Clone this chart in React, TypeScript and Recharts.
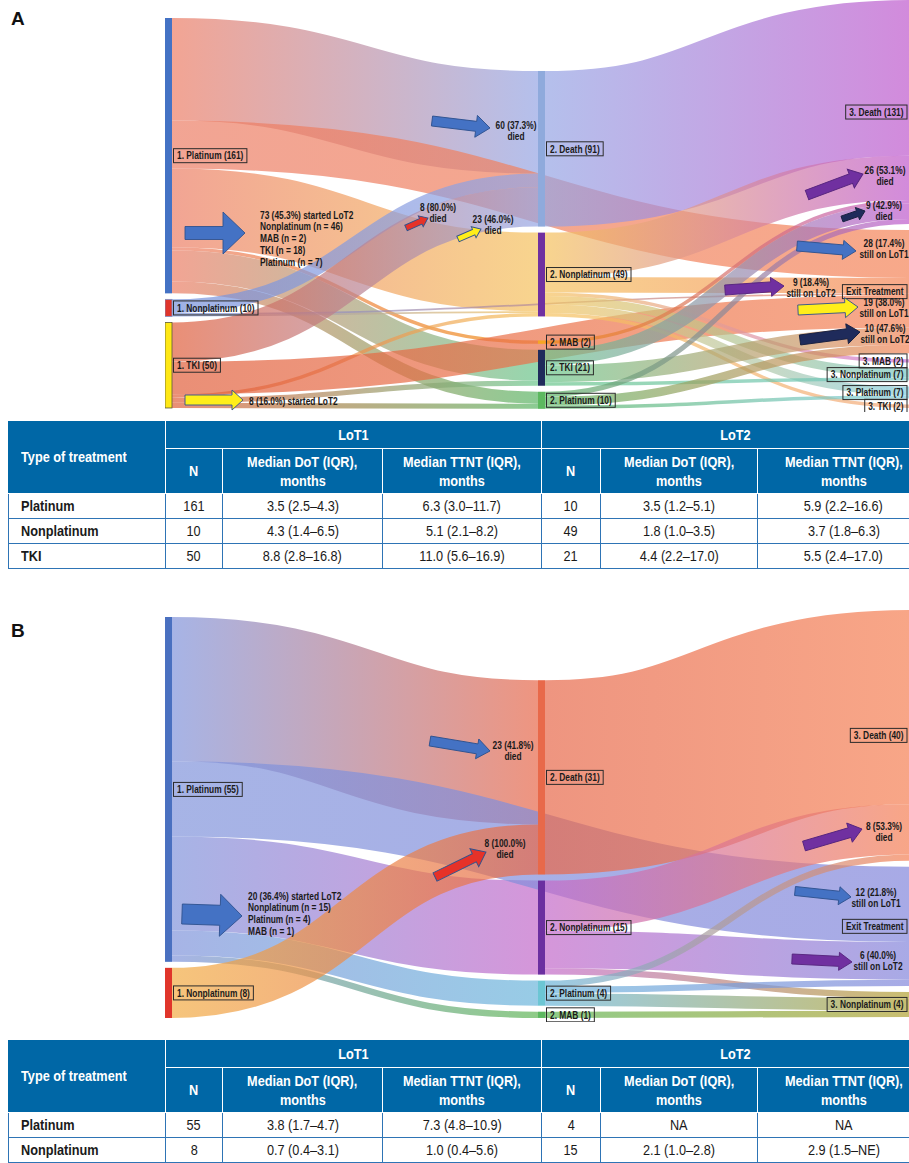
import React from 'react';
import { Sankey } from 'recharts';

// Arial-metric font squeezed horizontally to get a narrow face
const FONT = '"Liberation Sans", Arial, sans-serif';
const NARROW = 0.82;

// ---------- Panel A: LoT1 -> LoT2 -> LoT3 ----------
const nodesA = [
  'spacer-top', '1. Platinum (161)', '1. Nonplatinum (10)', '1. TKI (50)', 'spacer-bottom',
  'spacer-mid', '2. Death (91)', '2. Nonplatinum (49)', '2. MAB (2)', '2. TKI (21)', '2. Platinum (10)', 'spacer-mid2',
  '3. Death (131)', 'Exit Treatment', '3. MAB (2)', '3. Nonplatinum (7)', '3. Platinum (7)', '3. TKI (2)', 'spacer-end',
];

const flowsA: [string, string, number][] = [
  ['1. Platinum (161)', '2. Death (91)', 60],
  ['1. Platinum (161)', '2. Nonplatinum (49)', 46],
  ['1. Platinum (161)', '2. MAB (2)', 2],
  ['1. Platinum (161)', '2. TKI (21)', 18],
  ['1. Platinum (161)', '2. Platinum (10)', 7],
  ['1. Platinum (161)', 'Exit Treatment', 28],
  ['1. Nonplatinum (10)', '2. Death (91)', 8],
  ['1. Nonplatinum (10)', '2. Nonplatinum (49)', 1],
  ['1. Nonplatinum (10)', 'Exit Treatment', 1],
  ['1. TKI (50)', '2. Death (91)', 23],
  ['1. TKI (50)', '2. Nonplatinum (49)', 2],
  ['1. TKI (50)', '2. TKI (21)', 3],
  ['1. TKI (50)', '2. Platinum (10)', 3],
  ['1. TKI (50)', 'Exit Treatment', 19],
  ['2. Death (91)', '3. Death (131)', 91],
  ['2. Nonplatinum (49)', '3. Death (131)', 26],
  ['2. Nonplatinum (49)', 'Exit Treatment', 9],
  ['2. Nonplatinum (49)', '3. MAB (2)', 2],
  ['2. Nonplatinum (49)', '3. Nonplatinum (7)', 5],
  ['2. Nonplatinum (49)', '3. Platinum (7)', 5],
  ['2. Nonplatinum (49)', '3. TKI (2)', 2],
  ['2. MAB (2)', '3. Death (131)', 2],
  ['2. TKI (21)', '3. Death (131)', 9],
  ['2. TKI (21)', 'Exit Treatment', 10],
  ['2. TKI (21)', '3. Nonplatinum (7)', 2],
  ['2. Platinum (10)', '3. Death (131)', 3],
  ['2. Platinum (10)', 'Exit Treatment', 5],
  ['2. Platinum (10)', '3. Platinum (7)', 2],
];

// hidden flows: every column is filled to the full height so the stacking
// order stays fixed and the LoT2 column sits on the bottom line
const spacersA: [string, string, number][] = [
  ['spacer-top', 'spacer-mid', 7.02],
  ['spacer-bottom', 'spacer-mid', 41.48],
  ['spacer-bottom', 'spacer-mid2', 8.52],
  ['spacer-mid', 'spacer-end', 0.5],
  ['spacer-mid2', 'spacer-end', 49.5],
];

// ---------- Panel B ----------
const nodesB = [
  'spacer-top', '1. Platinum (55)', '1. Nonplatinum (8)', 'spacer-bottom',
  'spacer-mid', '2. Death (31)', '2. Nonplatinum (15)', '2. Platinum (4)', '2. MAB (1)',
  '3. Death (40)', 'Exit Treatment', '3. Nonplatinum (4)', 'spacer-end',
];

const flowsB: [string, string, number][] = [
  ['1. Platinum (55)', '2. Death (31)', 23],
  ['1. Platinum (55)', '2. Nonplatinum (15)', 15],
  ['1. Platinum (55)', '2. Platinum (4)', 4],
  ['1. Platinum (55)', '2. MAB (1)', 1],
  ['1. Platinum (55)', 'Exit Treatment', 12],
  ['1. Nonplatinum (8)', '2. Death (31)', 8],
  ['2. Death (31)', '3. Death (40)', 31],
  ['2. Nonplatinum (15)', '3. Death (40)', 8],
  ['2. Nonplatinum (15)', 'Exit Treatment', 6],
  ['2. Nonplatinum (15)', '3. Nonplatinum (4)', 1],
  ['2. Platinum (4)', '3. Death (40)', 1],
  ['2. Platinum (4)', 'Exit Treatment', 1],
  ['2. Platinum (4)', '3. Nonplatinum (4)', 2],
  ['2. MAB (1)', '3. Nonplatinum (4)', 1],
];

const spacersB: [string, string, number][] = [
  ['spacer-top', 'spacer-mid', 0.16],
  ['spacer-bottom', 'spacer-mid', 10.08],
  ['spacer-mid', 'spacer-end', 10.24],
];

// ---------- tables ----------
const lotHeaders = ['LoT1', 'LoT2'];
const lotColumns = [['N'], ['Median DoT (IQR),', 'months'], ['Median TTNT (IQR),', 'months']];

const tableRowsA = [
  ['Platinum', '161', '3.5 (2.5–4.3)', '6.3 (3.0–11.7)', '10', '3.5 (1.2–5.1)', '5.9 (2.2–16.6)'],
  ['Nonplatinum', '10', '4.3 (1.4–6.5)', '5.1 (2.1–8.2)', '49', '1.8 (1.0–3.5)', '3.7 (1.8–6.3)'],
  ['TKI', '50', '8.8 (2.8–16.8)', '11.0 (5.6–16.9)', '21', '4.4 (2.2–17.0)', '5.5 (2.4–17.0)'],
];

const tableRowsB = [
  ['Platinum', '55', '3.8 (1.7–4.7)', '7.3 (4.8–10.9)', '4', 'NA', 'NA'],
  ['Nonplatinum', '8', '0.7 (0.4–3.1)', '1.0 (0.4–5.6)', '15', '2.1 (1.0–2.8)', '2.9 (1.5–NE)'],
];

// ---------- colours ----------
const barColorsA: Record<string, string> = {
  '1. Platinum (161)': '#4472C4',
  '1. Nonplatinum (10)': '#E0352B',
  '1. TKI (50)': '#FFE815',
  '2. Death (91)': '#8FAADC',
  '2. Nonplatinum (49)': '#7030A0',
  '2. MAB (2)': '#F5A623',
  '2. TKI (21)': '#1F2B5B',
  '2. Platinum (10)': '#5CB85F',
};

const flowColorsA: Record<string, string> = {
  '1. Platinum (161)': '#EC7E66',
  '1. Nonplatinum (10)': '#7691DB',
  '1. TKI (50)': '#E15F3C',
  '2. Death (91)': '#95A5E4',
  '2. Nonplatinum (49)': '#F5C25E',
  '2. MAB (2)': '#EF8A10',
  '2. TKI (21)': '#69C58B',
  '2. Platinum (10)': '#5BB565',
  '3. Death (131)': '#BF59CD',
  'Exit Treatment': '#F48458',
  '3. MAB (2)': '#CD72D8',
  '3. Nonplatinum (7)': '#77C7C4',
  '3. Platinum (7)': '#83CDDE',
  '3. TKI (2)': '#F2A87D',
};

const barColorsB: Record<string, string> = {
  '1. Platinum (55)': '#4A70C0',
  '1. Nonplatinum (8)': '#E0352B',
  '2. Death (31)': '#E8694A',
  '2. Nonplatinum (15)': '#6B2FA0',
  '2. Platinum (4)': '#6CC6D4',
  '2. MAB (1)': '#5CB85F',
};

const flowColorsB: Record<string, string> = {
  '1. Platinum (55)': '#8194DB',
  '1. Nonplatinum (8)': '#F2AC44',
  '2. Death (31)': '#E7684A',
  '2. Nonplatinum (15)': '#C36ACA',
  '2. Platinum (4)': '#6CB6DB',
  '2. MAB (1)': '#5FB554',
  '3. Death (40)': '#F58054',
  'Exit Treatment': '#8386DB',
  '3. Nonplatinum (4)': '#B2A233',
};

const barStrokes: Record<string, string> = {
  '1. TKI (50)': '#5a5a3c',
  '1. Nonplatinum (10)': '#7f95c9',
};

// ---------- annotations ----------
type ArrowSpec = { x1: number; y1: number; x2: number; y2: number; shaft: number; head: number; headLen: number; kind: string };

const arrowStyles: Record<string, { fill: string; stroke: string }> = {
  blue: { fill: '#4472C4', stroke: '#2F528F' },
  red: { fill: '#E63228', stroke: '#2F528F' },
  yellow: { fill: '#FFEE1A', stroke: '#2F528F' },
  purple: { fill: '#7030A0', stroke: '#55247d' },
  navy: { fill: '#1F2B5B', stroke: '#17203f' },
};

const arrows: ArrowSpec[] = [
  // panel A
  { x1: 432, y1: 121, x2: 490, y2: 128, shaft: 10, head: 22, headLen: 14, kind: 'blue' },
  { x1: 185, y1: 233, x2: 245, y2: 233, shaft: 13, head: 42, headLen: 22, kind: 'blue' },
  { x1: 406, y1: 228, x2: 428, y2: 218, shaft: 6, head: 12, headLen: 8, kind: 'red' },
  { x1: 458, y1: 239, x2: 481, y2: 229, shaft: 6, head: 12, headLen: 8, kind: 'yellow' },
  { x1: 185, y1: 400, x2: 243, y2: 400, shaft: 10, head: 20, headLen: 11, kind: 'yellow' },
  { x1: 807, y1: 195, x2: 863, y2: 174, shaft: 10, head: 20, headLen: 13, kind: 'purple' },
  { x1: 842, y1: 219, x2: 865, y2: 211, shaft: 6, head: 13, headLen: 8, kind: 'navy' },
  { x1: 797, y1: 246, x2: 856, y2: 251, shaft: 10, head: 19, headLen: 13, kind: 'blue' },
  { x1: 725, y1: 290, x2: 784, y2: 286, shaft: 10, head: 19, headLen: 13, kind: 'purple' },
  { x1: 798, y1: 310, x2: 858, y2: 307, shaft: 10, head: 20, headLen: 13, kind: 'yellow' },
  { x1: 800, y1: 340, x2: 860, y2: 332, shaft: 10, head: 20, headLen: 13, kind: 'navy' },
  // panel B
  { x1: 430, y1: 741, x2: 490, y2: 751, shaft: 10, head: 20, headLen: 13, kind: 'blue' },
  { x1: 182, y1: 914, x2: 242, y2: 916, shaft: 20, head: 42, headLen: 22, kind: 'blue' },
  { x1: 435, y1: 877, x2: 486, y2: 852, shaft: 9, head: 20, headLen: 13, kind: 'red' },
  { x1: 804, y1: 846, x2: 862, y2: 829, shaft: 10, head: 20, headLen: 13, kind: 'purple' },
  { x1: 795, y1: 891, x2: 851, y2: 897, shaft: 9, head: 18, headLen: 12, kind: 'blue' },
  { x1: 792, y1: 959, x2: 852, y2: 962, shaft: 10, head: 18, headLen: 13, kind: 'purple' },
];

type NoteSpec = { x: number; y: number; lines: string[]; anchor: 'start' | 'middle' };

const notes: NoteSpec[] = [
  { x: 516, y: 125, lines: ['60 (37.3%)', 'died'], anchor: 'middle' },
  { x: 260, y: 215, lines: ['73 (45.3%) started LoT2', 'Nonplatinum (n = 46)', 'MAB (n = 2)', 'TKI (n = 18)', 'Platinum (n = 7)'], anchor: 'start' },
  { x: 438, y: 207, lines: ['8 (80.0%)', 'died'], anchor: 'middle' },
  { x: 493, y: 219, lines: ['23 (46.0%)', 'died'], anchor: 'middle' },
  { x: 249, y: 401, lines: ['8 (16.0%) started LoT2'], anchor: 'start' },
  { x: 885, y: 170, lines: ['26 (53.1%)', 'died'], anchor: 'middle' },
  { x: 884, y: 205, lines: ['9 (42.9%)', 'died'], anchor: 'middle' },
  { x: 884, y: 243, lines: ['28 (17.4%)', 'still on LoT1'], anchor: 'middle' },
  { x: 811, y: 282, lines: ['9 (18.4%)', 'still on LoT2'], anchor: 'middle' },
  { x: 884, y: 302, lines: ['19 (38.0%)', 'still on LoT1'], anchor: 'middle' },
  { x: 885, y: 328, lines: ['10 (47.6%)', 'still on LoT2'], anchor: 'middle' },
  { x: 513, y: 745, lines: ['23 (41.8%)', 'died'], anchor: 'middle' },
  { x: 248, y: 896, lines: ['20 (36.4%) started LoT2', 'Nonplatinum (n = 15)', 'Platinum (n = 4)', 'MAB (n = 1)'], anchor: 'start' },
  { x: 505, y: 843, lines: ['8 (100.0%)', 'died'], anchor: 'middle' },
  { x: 884, y: 826, lines: ['8 (53.3%)', 'died'], anchor: 'middle' },
  { x: 876, y: 892, lines: ['12 (21.8%)', 'still on LoT1'], anchor: 'middle' },
  { x: 878, y: 955, lines: ['6 (40.0%)', 'still on LoT2'], anchor: 'middle' },
];

// ---------- helpers ----------
const measureCtx = typeof document !== 'undefined' ? document.createElement('canvas').getContext('2d') : null;

// width of a bold string once squeezed to the narrow face
function narrowWidth(s: string, size: number) {
  if (!measureCtx) return s.length * size * 0.45;
  measureCtx.font = `bold ${size}px ${FONT}`;
  return measureCtx.measureText(s).width * NARROW;
}

function NarrowText({ x, y, text, size, anchor = 'start' }: { x: number; y: number; text: string; size: number; anchor?: 'start' | 'middle' }) {
  const w = narrowWidth(text, size);
  const left = anchor === 'middle' ? x - w / 2 : x;
  return (
    <text
      x={left}
      y={y}
      fontFamily={FONT}
      fontWeight="bold"
      fontSize={size}
      fill="#1a1a1a"
      textLength={w}
      lengthAdjust="spacingAndGlyphs"
    >
      {text}
    </text>
  );
}

const isSpacer = (name: string) => name.startsWith('spacer');

function renderNode(props: any, bars: Record<string, string>) {
  const { x, y, width, height, payload } = props;
  const name: string = payload.name;
  if (isSpacer(name)) return <g />;
  const cy = y + height / 2;
  const w = narrowWidth(name, 10.2) + 7;
  const onRight = payload.depth === 2;
  const bx = onRight ? x - 4 - w : x + width + 1.5;
  return (
    <g>
      {!onRight && (
        <rect
          x={x}
          y={y}
          width={width}
          height={Math.max(height, 1)}
          fill={bars[name]}
          stroke={barStrokes[name] || 'none'}
          strokeWidth={0.8}
        />
      )}
      <rect x={bx} y={cy - 7} width={w} height={14} fill="none" stroke="#2b2b2b" strokeWidth={1} />
      <NarrowText x={bx + 3.5} y={cy + 3.7} text={name} size={10.2} />
    </g>
  );
}

function renderLink(props: any, prefix: string, colors: Record<string, string>) {
  const { sourceX, targetX, sourceY, targetY, sourceControlX, targetControlX, linkWidth, index, payload } = props;
  const s: string = payload.source.name;
  const t: string = payload.target.name;
  if (isSpacer(s) || isSpacer(t)) return <g />;
  const id = `${prefix}-grad-${index}`;
  return (
    <g>
      <defs>
        <linearGradient id={id} gradientUnits="userSpaceOnUse" x1={sourceX} y1={0} x2={targetX} y2={0}>
          <stop offset="0%" stopColor={colors[s]} />
          <stop offset="100%" stopColor={colors[t]} />
        </linearGradient>
      </defs>
      <path
        d={`M${sourceX},${sourceY} C${sourceControlX},${sourceY} ${targetControlX},${targetY} ${targetX},${targetY}`}
        fill="none"
        stroke={`url(#${id})`}
        strokeWidth={linkWidth}
        strokeOpacity={0.7}
      />
    </g>
  );
}

type FlowPanelProps = {
  id: string;
  nodes: string[];
  flows: [string, string, number][];
  spacers: [string, string, number][];
  bars: Record<string, string>;
  colors: Record<string, string>;
  top: number;
  height: number;
  clipHeight: number;
};

function FlowPanel({ id, nodes, flows, spacers, bars, colors, top, height, clipHeight }: FlowPanelProps) {
  const data = {
    nodes: nodes.map((name) => ({ name })),
    links: [...flows, ...spacers].map(([s, t, v]) => ({
      source: nodes.indexOf(s),
      target: nodes.indexOf(t),
      value: v,
    })),
  };
  return (
    <div style={{ position: 'absolute', left: 165, top, width: 909 - 165, height: clipHeight, overflow: 'hidden' }}>
      <Sankey
        width={753}
        height={height}
        data={data}
        nodeWidth={7}
        nodePadding={6}
        iterations={0}
        margin={{ top: 0, right: 0, bottom: 0, left: 0 }}
        node={(p: any) => renderNode(p, bars)}
        link={(p: any) => renderLink(p, id, colors)}
      />
    </div>
  );
}

function BlockArrow({ a }: { a: ArrowSpec }) {
  const len = Math.hypot(a.x2 - a.x1, a.y2 - a.y1);
  const deg = (Math.atan2(a.y2 - a.y1, a.x2 - a.x1) * 180) / Math.PI;
  const s = a.shaft / 2;
  const h = a.head / 2;
  const b = len - a.headLen;
  const pts = `0,${-s} ${b},${-s} ${b},${-h} ${len},0 ${b},${h} ${b},${s} 0,${s}`;
  const st = arrowStyles[a.kind];
  return (
    <polygon
      points={pts}
      transform={`translate(${a.x1},${a.y1}) rotate(${deg})`}
      fill={st.fill}
      stroke={st.stroke}
      strokeWidth={0.9}
    />
  );
}

const HEAD_BLUE = '#0067A6';
const LINE_BLUE = '#2E74B5';

// condensed look for html cells
function Squeeze({ children, origin = 'center' }: { children: React.ReactNode; origin?: string }) {
  return (
    <span style={{ display: 'inline-block', whiteSpace: 'nowrap', transform: `scaleX(${NARROW})`, transformOrigin: origin }}>
      {children}
    </span>
  );
}

function LotTable({ rows, top }: { rows: string[][]; top: number }) {
  const th: React.CSSProperties = {
    background: HEAD_BLUE,
    color: '#fff',
    fontWeight: 'bold',
    fontSize: 15.5,
    textAlign: 'center',
    border: '1px solid #fff',
    padding: 0,
    lineHeight: '19px',
    whiteSpace: 'nowrap',
  };
  const td: React.CSSProperties = {
    border: `1px solid ${LINE_BLUE}`,
    fontSize: 15.5,
    textAlign: 'center',
    color: '#1a1a1a',
    padding: 0,
    height: 24,
    whiteSpace: 'nowrap',
  };
  return (
    <table
      style={{
        position: 'absolute',
        left: 8,
        top,
        width: 921,
        borderCollapse: 'collapse',
        tableLayout: 'fixed',
        fontFamily: FONT,
      }}
    >
      <colgroup>
        {[157, 57, 160, 159, 59, 157, 172].map((w, i) => (
          <col key={i} style={{ width: w }} />
        ))}
      </colgroup>
      <thead>
        <tr style={{ height: 27 }}>
          <th
            rowSpan={2}
            style={{ ...th, textAlign: 'left', paddingLeft: 12, borderLeft: `1px solid ${HEAD_BLUE}`, borderTop: 'none' }}
          >
            <Squeeze origin="left">Type of treatment</Squeeze>
          </th>
          {lotHeaders.map((h) => (
            <th key={h} colSpan={3} style={{ ...th, borderTop: 'none' }}>
              <Squeeze>{h}</Squeeze>
            </th>
          ))}
        </tr>
        <tr style={{ height: 45 }}>
          {lotHeaders.map((h) =>
            lotColumns.map((c, i) => (
              <th key={`${h}-${i}`} style={th}>
                {c.map((line, j) => (
                  <div key={j}>
                    <Squeeze>{line}</Squeeze>
                  </div>
                ))}
              </th>
            )),
          )}
        </tr>
      </thead>
      <tbody>
        {rows.map((r) => (
          <tr key={r[0]}>
            {r.map((cell, i) => (
              <td
                key={i}
                style={i === 0 ? { ...td, textAlign: 'left', paddingLeft: 12, fontWeight: 'bold' } : td}
              >
                <Squeeze origin={i === 0 ? 'left' : 'center'}>{cell}</Squeeze>
              </td>
            ))}
          </tr>
        ))}
      </tbody>
    </table>
  );
}

export default function App() {
  return (
    <div
      style={{
        position: 'absolute',
        left: 0,
        top: 0,
        width: 909,
        height: 1163,
        overflow: 'hidden',
        background: '#fff',
        fontFamily: FONT,
      }}
    >
      <FlowPanel
        id="a"
        nodes={nodesA}
        flows={flowsA}
        spacers={spacersA}
        bars={barColorsA}
        colors={flowColorsA}
        top={0}
        height={499.5}
        clipHeight={412}
      />
      <FlowPanel
        id="b"
        nodes={nodesB}
        flows={flowsB}
        spacers={spacersB}
        bars={barColorsB}
        colors={flowColorsB}
        top={610}
        height={477.2}
        clipHeight={412}
      />
      <LotTable rows={tableRowsA} top={421} />
      <LotTable rows={tableRowsB} top={1040} />
      <svg
        width={909}
        height={1163}
        style={{ position: 'absolute', left: 0, top: 0, pointerEvents: 'none' }}
      >
        <text x={11} y={25} fontFamily={FONT} fontWeight="bold" fontSize={19} fill="#111">
          A
        </text>
        <text x={11} y={637} fontFamily={FONT} fontWeight="bold" fontSize={19} fill="#111">
          B
        </text>
        {arrows.map((a, i) => (
          <BlockArrow key={i} a={a} />
        ))}
        {notes.map((n, i) => (
          <g key={i}>
            {n.lines.map((line, j) => (
              <NarrowText key={j} x={n.x} y={n.y + 3.7 + j * 11.7} text={line} size={10.2} anchor={n.anchor} />
            ))}
          </g>
        ))}
      </svg>
    </div>
  );
}
